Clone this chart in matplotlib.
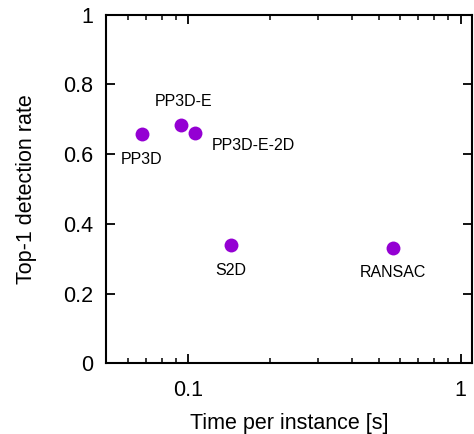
import matplotlib
matplotlib.use("Agg")
import matplotlib.pyplot as plt
from matplotlib.ticker import LogLocator, FixedLocator, NullFormatter, FixedFormatter

plt.rcParams['font.family'] = ['Liberation Sans', 'DejaVu Sans']

methods = ["PP3D", "PP3D-E", "PP3D-E-2D", "S2D", "RANSAC"]
times = [0.0677, 0.0943, 0.1058, 0.1434, 0.565]
rates = [0.657, 0.684, 0.661, 0.339, 0.331]
# label offsets in points (dx, dy) and alignment
offsets = [(0, -18), (2, 17), (12, -9), (0, -18), (0, -18)]
aligns = ["center", "center", "left", "center", "center"]

yticks = [0, 0.2, 0.4, 0.6, 0.8, 1]
ytick_labels = ["0", "0.2", "0.4", "0.6", "0.8", "1"]
xticks = [0.1, 1]
xtick_labels = ["0.1", "1"]

fig = plt.figure(figsize=(4.74, 4.34), dpi=100)
ax = fig.add_axes([106/474, 1 - 363.2/434, (472 - 106)/474, (363.2 - 14.7)/434])

ax.plot(times, rates, 'o', color='#9400D3', markersize=10, markeredgewidth=0, zorder=3)
for m, t, r, (dx, dy), ha in zip(methods, times, rates, offsets, aligns):
    ax.annotate(m, (t, r), xytext=(dx, dy), textcoords='offset points',
                ha=ha, va='center', fontsize=11.5)

ax.set_xscale('log')
ax.set_xlim(0.05, 1.1)
ax.set_ylim(0, 1)
ax.xaxis.set_major_locator(FixedLocator(xticks))
ax.xaxis.set_major_formatter(FixedFormatter(xtick_labels))
ax.xaxis.set_minor_locator(LogLocator(base=10, subs=range(2, 10)))
ax.xaxis.set_minor_formatter(NullFormatter())
ax.set_yticks(yticks)
ax.set_yticklabels(ytick_labels)

for s in ax.spines.values():
    s.set_linewidth(1.5)
ax.tick_params(which='major', direction='in', top=True, right=True, length=6.5, width=1.3,
               labelsize=15.5)
ax.tick_params(axis='x', which='major', pad=12)
ax.tick_params(axis='y', which='major', pad=9)
ax.tick_params(which='minor', direction='in', top=True, right=True, length=3.5, width=1.1)

ax.set_xlabel("Time per instance [s]", fontsize=15.5, labelpad=9)
ax.set_ylabel("Top-1 detection rate", fontsize=15.5, labelpad=19)

fig.savefig("out.png", dpi=100)
